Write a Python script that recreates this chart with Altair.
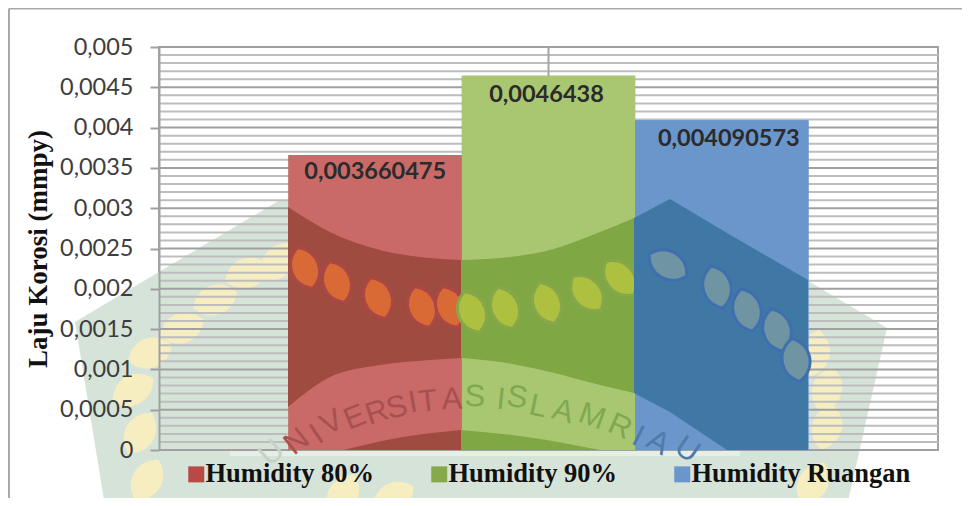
import altair as alt
import pandas as pd

categories = ["Humidity 80%", "Humidity 90%", "Humidity Ruangan"]
values = [0.003660475, 0.0046438, 0.004090573]
labels = ["0,003660475", "0,0046438", "0,004090573"]
colors = ["#c96a68", "#a9c770", "#6a96cc"]
legend_colors = ["#b84a45", "#86a94a", "#6a96cc"]
major = [0, 0.0005, 0.001, 0.0015, 0.002, 0.0025, 0.003, 0.0035, 0.004, 0.0045, 0.005]
minor = [i / 10000 for i in range(0, 51) if i % 5 != 0]

# watermark logo
shield_x = [75, 105, 280, 670, 847, 887]
shield_top = [322, 304, 200, 199, 304, 328]
shield_bottom = [322, 506, 506, 506, 506, 328]
gap_x = [230, 740]
gap_top = [451, 451]
gap_bottom = [456, 456]

band_x = [288, 330, 380, 430, 461, 500, 550, 600, 634, 670, 727, 808]
band_top = [207, 232, 250, 258, 260, 258, 250, 232, 218, 199, 233, 280]
band_bottom = [407, 377, 365, 360, 358, 362, 372, 385, 393, 412, 450, 450]
low_x = [343, 403, 461, 527, 600]
low_top = [450, 437, 430, 437, 450]
low_bottom = [450, 450, 450, 450, 450]
tone_names = ["red", "green", "blue"]
tone_from = [288, 461, 634]
tone_to = [461, 634, 808]
tone_dark = ["#a04b40", "#7fa845", "#3f77a5"]
tone_leaf = ["#d96a35", "#aec040", "#6f95a2"]
tone_ring = ["#ab4745", "#86a84a", "#3f6fb0"]

pale_x = [247, 215, 182, 150, 133, 140, 147, 278, 815, 827, 827, 813, 343, 393]
pale_y = [273, 300, 328, 353, 390, 433, 480, 262, 353, 390, 427, 483, 495, 498]
pale_a = [70, 70, 70, 70, 60, 30, 30, 40, 10, 15, 15, 30, 30, 60]
leaf_x = [[305, 337, 378, 422, 450], [472, 505, 547, 587, 620], [668, 717, 747, 777, 796]]
leaf_y = [[268, 282, 298, 307, 307], [312, 308, 303, 293, 278], [265, 287, 310, 330, 360]]
leaf_a = [[340, 340, 340, 340, 340], [340, 340, 340, 320, 320], [300, 345, 345, 345, 350]]

mark_letters = list("UNIVERSITASISLAMRIAU")
mark_x = [272, 297, 317, 332, 355, 377, 397, 413, 428, 452, 475, 501, 517, 538, 563, 592, 620, 638, 658, 687]
mark_y = [453, 442, 435, 423, 418, 413, 408, 403, 402, 400, 397, 400, 398, 407, 412, 417, 427, 437, 443, 450]
mark_a = [318, 322, 326, 332, 338, 342, 346, 350, 354, 358, 2, 6, 9, 12, 16, 20, 24, 27, 30, 34]
mark_c = ["#c5d2c8"] + ["#a85050"] * 9 + ["#80a850"] * 7 + ["#507aa8"] * 3

W, H = 779, 403
LEAF = "M0,-1 C0.85,-0.55 0.85,0.55 0,1 C-0.85,0.55 -0.85,-0.55 0,-1 Z"
yscale = alt.Scale(domain=[0, 0.005], nice=False)
band = alt.Scale(type="band", paddingInner=0, paddingOuter=0.747)
px = lambda f: alt.X(f, scale=alt.Scale(domain=[159, 938]), axis=None)
py = lambda f: alt.Y(f, scale=alt.Scale(domain=[450, 47]), axis=None)
df = pd.DataFrame({"cat": categories, "v": values, "label": labels})

def area(xs, tops, bottoms, color, opacity=1, curve="linear"):
    d = pd.DataFrame({"x": xs, "t": tops, "b": bottoms})
    return alt.Chart(d).mark_area(color=color, opacity=opacity, interpolate=curve).encode(
        x=px("x:Q"), y=py("t:Q"), y2="b:Q")

def lerp(xs, ys, x):
    for i in range(len(xs) - 1):
        if xs[i] <= x <= xs[i + 1]:
            return ys[i] + (ys[i + 1] - ys[i]) * (x - xs[i]) / (xs[i + 1] - xs[i])
    return None

def clipped(xs, tops, bottoms, a, b):
    keys = sorted({x for x in xs if a < x < b} | {a, b})
    keys = [k for k in keys if xs[0] <= k <= xs[-1]]
    return keys, [lerp(xs, tops, k) for k in keys], [lerp(xs, bottoms, k) for k in keys]

def leaves(xs, ys, angles, color, ring=None, size=1900):
    d = pd.DataFrame({"x": xs, "y": ys, "a": angles})
    kw = dict(stroke=ring, strokeWidth=3) if ring else dict(strokeWidth=0)
    return alt.Chart(d).mark_point(shape=LEAF, filled=True, fill=color, opacity=1, size=size, **kw).encode(
        x=px("x:Q"), y=py("y:Q"), angle=alt.Angle("a:Q", scale=None))

shield = area(shield_x, shield_top, shield_bottom, "#d6e3d9")
gap = area(gap_x, gap_top, gap_bottom, "#ffffff", 0.4)
pale = leaves(pale_x, pale_y, pale_a, "#f6edc0", size=2200)

minor_rule = alt.Chart(pd.DataFrame({"v": minor})).mark_rule(color="#bdbdbd", strokeWidth=2).encode(
    y=alt.Y("v:Q", scale=yscale, axis=None))
major_rule = alt.Chart(pd.DataFrame({"v": major})).mark_rule(color="#a0a0a0", strokeWidth=2).encode(
    y=alt.Y("v:Q", scale=yscale, axis=None))
center = alt.Chart(pd.DataFrame({"v": [0]})).mark_rule(color="#a6a6a6", strokeWidth=2).encode(
    x=alt.value(W / 2), y=alt.value(0), y2=alt.value(H))

legend_layer = alt.Chart(df).mark_bar(opacity=1).encode(
    x=alt.X("cat:N", sort=categories, axis=None, scale=band),
    y=alt.Y("v:Q", scale=yscale, title="Laju Korosi (mmpy)",
            axis=alt.Axis(values=major, grid=False, zindex=1,
                          labelExpr="replace(format(datum.value,'.4~f'),'.',',')",
                          labelFont="Lato", labelFontSize=23.5, labelColor="#3d3d3d",
                          labelPadding=17, tickSize=9, tickColor="#a0a0a0", tickWidth=2,
                          domainColor="#a0a0a0", domainWidth=2,
                          titleFont="Liberation Serif", titleFontSize=27, titleFontWeight="bold",
                          titleColor="#111111", titlePadding=7)),
    color=alt.Color("cat:N", sort=categories,
                    scale=alt.Scale(domain=categories, range=legend_colors),
                    legend=alt.Legend(orient="none", legendX=24, legendY=414, columns=3,
                                      direction="horizontal", title=None, symbolType="square",
                                      symbolSize=256, symbolStrokeWidth=0, gridAlign="all",
                                      columnPadding=1, labelOffset={"expr": "-4"}, labelFont="Liberation Serif",
                                      labelFontSize=26.5, labelFontWeight="bold",
                                      labelColor="#111111", labelLimit=300)),
)
bars = alt.Chart(df).mark_bar(opacity=1).encode(
    x=alt.X("cat:N", sort=categories, axis=None, scale=band),
    y=alt.Y("v:Q", scale=yscale, axis=None),
    color=alt.Color("cat:N", sort=categories, legend=None,
                    scale=alt.Scale(domain=categories, range=colors)),
)
tone_layers = []
for i, name in enumerate(tone_names):
    a, b = tone_from[i], tone_to[i]
    k, t, bt = clipped(band_x, band_top, band_bottom, a, b)
    tone_layers.append(area(k, t, bt, tone_dark[i], curve="linear" if name == "blue" else "monotone"))
    if low_x[0] < b and low_x[-1] > a:
        k2, t2, b2 = clipped(low_x, low_top, low_bottom, max(a, low_x[0]), min(b, low_x[-1]))
        tone_layers.append(area(k2, t2, b2, tone_dark[i], curve="monotone"))
    tone_layers.append(leaves(leaf_x[i], leaf_y[i], leaf_a[i], tone_leaf[i], tone_ring[i]))

wm_text = alt.Chart(pd.DataFrame({"x": mark_x, "y": mark_y, "t": mark_letters, "a": mark_a, "c": mark_c})).mark_text(
    font="Liberation Sans", fontSize=31, baseline="middle").encode(
    x=px("x:Q"), y=py("y:Q"), text="t:N", angle=alt.Angle("a:Q", scale=None), color=alt.Color("c:N", scale=None))

label_dx = [0, -2, 7]
label_dy = [5, 7, 7]
text_layers = []
for i, c in enumerate(categories):
    text_layers.append(
        alt.Chart(df).transform_filter(alt.datum.cat == c).mark_text(
            font="Lato", fontSize=23.5, fontWeight="bold", color="#2b2b2b",
            baseline="top", dx=label_dx[i], dy=label_dy[i]).encode(
            x=alt.X("cat:N", sort=categories, axis=None, bandPosition=0.5,
                    scale=alt.Scale(type="band", domain=categories, paddingInner=0, paddingOuter=0.747)),
            y=alt.Y("v:Q", scale=yscale, axis=None),
            text="label:N"))
frame_top = alt.Chart(pd.DataFrame({"v": [0]})).mark_rule(color="#a9a9a9", strokeWidth=2).encode(
    x=alt.value(-150), x2=alt.value(810), y=alt.value(-38.5))
frame_left = alt.Chart(pd.DataFrame({"v": [0]})).mark_rule(color="#a9a9a9", strokeWidth=2).encode(
    x=alt.value(-150), y=alt.value(-38.5), y2=alt.value(460))

chart = alt.layer(shield, gap, pale, minor_rule, major_rule, center, legend_layer, bars,
                  *tone_layers, wm_text, *text_layers, frame_top, frame_left).resolve_scale(
    x="independent", y="independent", color="independent", angle="independent"
).properties(
    width=W, height=H,
    autosize=alt.AutoSizeParams(type="none"),
    padding={"left": 151, "top": 39, "right": 24, "bottom": 48},
).configure_view(stroke="#a6a6a6", strokeWidth=2)
chart.save("out.html", embed_options={"renderer": "svg", "actions": False})
